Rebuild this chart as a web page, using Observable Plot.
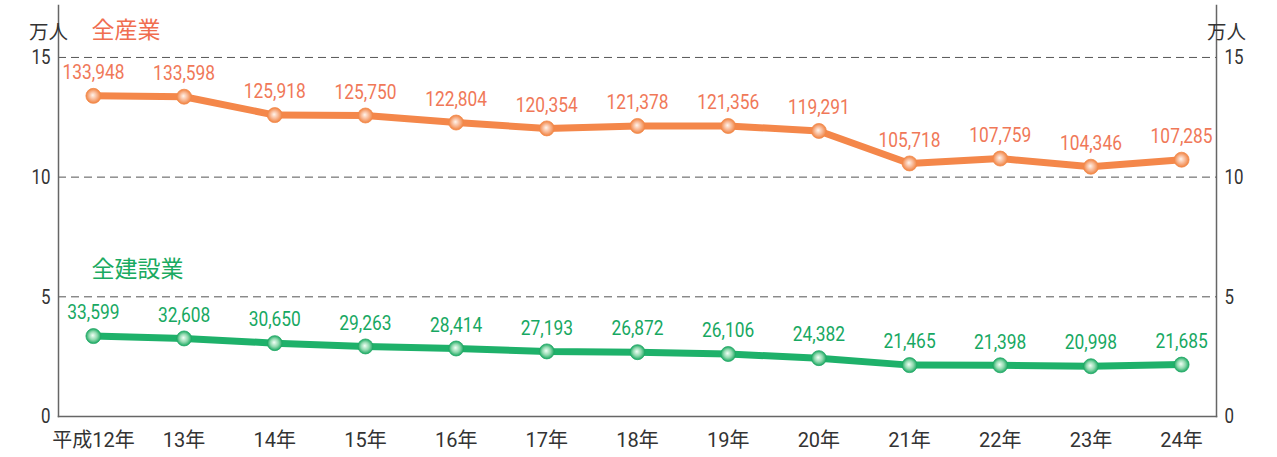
<!DOCTYPE html>
<html><head><meta charset="utf-8">
<script src="https://cdn.jsdelivr.net/npm/d3@7"></script>
<script src="https://cdn.jsdelivr.net/npm/@observablehq/plot@0.6"></script>
<style>
html,body{margin:0;padding:0;background:#fff;}
#chart{width:1277px;height:457px;}
</style></head>
<body><div id="chart"></div>
<script>
const years = ["平成12年","13年","14年","15年","16年","17年","18年","19年","20年","21年","22年","23年","24年"];
const allIndustry = [133948,133598,125918,125750,122804,120354,121378,121356,119291,105718,107759,104346,107285];
const construction = [33599,32608,30650,29263,28414,27193,26872,26106,24382,21465,21398,20998,21685];
const yTicks = [0,5,10,15];
const gridTicks = [5,10,15];
const seriesNames = ["全産業","全建設業"];
const unitLabel = "万人";

const ORANGE = "#F4874A", ORANGE_T = "#F07858";
const GREEN = "#1EB16A", GREEN_T = "#17A862";

const rows = (vals, s) => vals.map((v,i)=>({year:years[i], v:v/10000, raw:v, s}));
const a = rows(allIndustry, "a");
const c = rows(construction, "c");
const fmt = d3.format(",");
const font = "Roboto, 'Noto Sans CJK JP', sans-serif";
const jp = "'Noto Sans CJK JP', sans-serif";

const VAL_SIZE = 19.5, TICK_SIZE = 21;

const plot = Plot.plot({
  width: 1277, height: 457,
  marginTop: 5, marginBottom: 41, marginLeft: 58, marginRight: 61,
  style: {fontFamily: font, background: "#fff", fontSize: "18px"},
  x: {type: "point", domain: years, padding: 0.385, round: false},
  y: {domain: [0, 17.17], ticks: yTicks},
  marks: [
    Plot.ruleY(gridTicks, {stroke: "#555", strokeDasharray: "8,5", strokeWidth: 1}),
    Plot.frame({anchor: "left", stroke: "#666", strokeWidth: 1.5}),
    Plot.frame({anchor: "right", stroke: "#666", strokeWidth: 1.5}),
    Plot.frame({anchor: "bottom", stroke: "#666", strokeWidth: 1.5}),
    Plot.axisY({ticks: yTicks, anchor: "left", tickSize: 0, tickPadding: 8, label: null, fontSize: TICK_SIZE, fill: "#333"}),
    Plot.axisY({ticks: yTicks, anchor: "right", tickSize: 0, tickPadding: 8, label: null, fontSize: TICK_SIZE, fill: "#333"}),
    Plot.axisX({tickSize: 0, tickPadding: 16, label: null, fontSize: 20, fill: "#333"}),
    Plot.text([unitLabel], {frameAnchor: "top-left", lineAnchor: "middle", dx: -29.5, dy: 27, fontSize: 19.5, fill: "#333", fontFamily: jp}),
    Plot.text([unitLabel], {frameAnchor: "top-right", lineAnchor: "middle", dx: 29.5, dy: 27, fontSize: 19.5, fill: "#333", fontFamily: jp}),
    Plot.line(a, {x: "year", y: "v", stroke: ORANGE, strokeWidth: 7}),
    Plot.line(c, {x: "year", y: "v", stroke: GREEN, strokeWidth: 7}),
    Plot.dot(a, {x: "year", y: "v", r: 7.5, fill: "url(#gO)", stroke: "#F3894A", strokeWidth: 0.8}),
    Plot.dot(c, {x: "year", y: "v", r: 7.5, fill: "url(#gG)", stroke: "#22A866", strokeWidth: 0.8}),
    Plot.text(a, {x: "year", y: "v", text: d => fmt(d.raw), dy: -23, fill: ORANGE_T, fontSize: VAL_SIZE}),
    Plot.text(c, {x: "year", y: "v", text: d => fmt(d.raw), dy: -23, fill: GREEN_T, fontSize: VAL_SIZE}),
    Plot.text([seriesNames[0]], {frameAnchor: "top-left", lineAnchor: "middle", dx: 33, dy: 25, fill: "#F06E50", fontSize: 23, fontFamily: jp, textAnchor: "start"}),
    Plot.text([seriesNames[1]], {frameAnchor: "top-left", lineAnchor: "middle", dx: 33, dy: 264, fill: "#1AAA60", fontSize: 23, fontFamily: jp, textAnchor: "start"})
  ]
});

// condensed look: measure and squeeze numeric glyphs horizontally
const ctx = document.createElement("canvas").getContext("2d");
function measure(str, size){ ctx.font = `${size}px ${font}`; return ctx.measureText(str).width; }
const kVal = Math.min(1, 62 / measure("133,948", VAL_SIZE));
const kTick = Math.min(1, 19 / measure("10", TICK_SIZE));

const svg = d3.select(plot);
svg.selectAll("text").each(function(){
  const t = d3.select(this);
  const s = t.text();
  if (/^[\d,]+$/.test(s)) {
    const tr = t.attr("transform") || "";
    const k = s.includes(",") ? kVal : kTick;
    t.attr("transform", (tr + ` scale(${k.toFixed(3)},1)`).trim());
  }
});
const defs = svg.insert("defs", ":first-child");
function grad(id, c0, c1, c2){
  const g = defs.append("radialGradient").attr("id", id).attr("cx","50%").attr("cy","50%").attr("r","50%").attr("fx","45%").attr("fy","45%");
  g.append("stop").attr("offset","0%").attr("stop-color",c0);
  g.append("stop").attr("offset","55%").attr("stop-color",c1);
  g.append("stop").attr("offset","100%").attr("stop-color",c2);
}
grad("gO", "#FFF4EC", "#F8B590", "#F0823F");
grad("gG", "#F2FFF6", "#8FD9AE", "#1AA862");
document.getElementById("chart").appendChild(plot);
</script>
</body></html>
